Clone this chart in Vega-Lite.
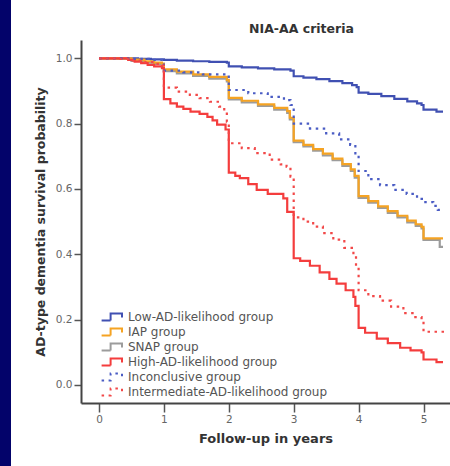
{
 "$schema": "https://vega.github.io/schema/vega-lite/v6.json",
 "width": 369,
 "height": 363,
 "autosize": {"type": "none"},
 "padding": {"left": 81, "top": 40, "right": 0, "bottom": 63},
 "background": "#03036a",
 "title": {"text": "NIA-AA criteria", "font": "DejaVu Sans", "fontSize": 12.5, "fontWeight": "bold", "color": "#333333", "frame": "group", "anchor": "middle", "dx": 36, "offset": 5},
 "data": {"values": [
  {"g":"Low-AD-likelihood group","t":0,"s":1},
  {"g":"Low-AD-likelihood group","t":0.4,"s":1},
  {"g":"Low-AD-likelihood group","t":0.6,"s":0.998},
  {"g":"Low-AD-likelihood group","t":0.8,"s":0.997},
  {"g":"Low-AD-likelihood group","t":1.0,"s":0.995},
  {"g":"Low-AD-likelihood group","t":1.2,"s":0.993},
  {"g":"Low-AD-likelihood group","t":1.45,"s":0.991},
  {"g":"Low-AD-likelihood group","t":1.7,"s":0.989},
  {"g":"Low-AD-likelihood group","t":1.97,"s":0.987},
  {"g":"Low-AD-likelihood group","t":2.0,"s":0.975},
  {"g":"Low-AD-likelihood group","t":2.2,"s":0.972},
  {"g":"Low-AD-likelihood group","t":2.45,"s":0.969},
  {"g":"Low-AD-likelihood group","t":2.7,"s":0.966},
  {"g":"Low-AD-likelihood group","t":2.95,"s":0.962},
  {"g":"Low-AD-likelihood group","t":3.0,"s":0.945},
  {"g":"Low-AD-likelihood group","t":3.15,"s":0.941},
  {"g":"Low-AD-likelihood group","t":3.35,"s":0.936},
  {"g":"Low-AD-likelihood group","t":3.55,"s":0.93},
  {"g":"Low-AD-likelihood group","t":3.75,"s":0.924},
  {"g":"Low-AD-likelihood group","t":3.9,"s":0.918},
  {"g":"Low-AD-likelihood group","t":3.97,"s":0.912},
  {"g":"Low-AD-likelihood group","t":4.0,"s":0.895},
  {"g":"Low-AD-likelihood group","t":4.15,"s":0.891},
  {"g":"Low-AD-likelihood group","t":4.35,"s":0.884},
  {"g":"Low-AD-likelihood group","t":4.55,"s":0.876},
  {"g":"Low-AD-likelihood group","t":4.75,"s":0.868},
  {"g":"Low-AD-likelihood group","t":4.9,"s":0.862},
  {"g":"Low-AD-likelihood group","t":4.97,"s":0.857},
  {"g":"Low-AD-likelihood group","t":5.0,"s":0.843},
  {"g":"Low-AD-likelihood group","t":5.2,"s":0.837},
  {"g":"Low-AD-likelihood group","t":5.3,"s":0.837},

  {"g":"SNAP group","t":0,"s":1},
  {"g":"SNAP group","t":0.3,"s":0.998},
  {"g":"SNAP group","t":0.5,"s":0.992},
  {"g":"SNAP group","t":0.7,"s":0.987},
  {"g":"SNAP group","t":0.85,"s":0.983},
  {"g":"SNAP group","t":0.97,"s":0.98},
  {"g":"SNAP group","t":1.0,"s":0.961},
  {"g":"SNAP group","t":1.2,"s":0.954},
  {"g":"SNAP group","t":1.45,"s":0.946},
  {"g":"SNAP group","t":1.7,"s":0.938},
  {"g":"SNAP group","t":1.97,"s":0.929},
  {"g":"SNAP group","t":2.0,"s":0.874},
  {"g":"SNAP group","t":2.2,"s":0.865},
  {"g":"SNAP group","t":2.45,"s":0.854},
  {"g":"SNAP group","t":2.7,"s":0.843},
  {"g":"SNAP group","t":2.9,"s":0.833},
  {"g":"SNAP group","t":2.94,"s":0.813},
  {"g":"SNAP group","t":3.0,"s":0.743},
  {"g":"SNAP group","t":3.15,"s":0.73},
  {"g":"SNAP group","t":3.3,"s":0.717},
  {"g":"SNAP group","t":3.45,"s":0.703},
  {"g":"SNAP group","t":3.6,"s":0.688},
  {"g":"SNAP group","t":3.75,"s":0.671},
  {"g":"SNAP group","t":3.88,"s":0.655},
  {"g":"SNAP group","t":3.94,"s":0.635},
  {"g":"SNAP group","t":4.0,"s":0.573},
  {"g":"SNAP group","t":4.15,"s":0.558},
  {"g":"SNAP group","t":4.3,"s":0.542},
  {"g":"SNAP group","t":4.45,"s":0.527},
  {"g":"SNAP group","t":4.6,"s":0.513},
  {"g":"SNAP group","t":4.75,"s":0.498},
  {"g":"SNAP group","t":4.88,"s":0.487},
  {"g":"SNAP group","t":4.97,"s":0.479},
  {"g":"SNAP group","t":5.0,"s":0.444},
  {"g":"SNAP group","t":5.25,"s":0.423},
  {"g":"SNAP group","t":5.3,"s":0.423},

  {"g":"IAP group","t":0,"s":1},
  {"g":"IAP group","t":0.3,"s":1},
  {"g":"IAP group","t":0.5,"s":0.996},
  {"g":"IAP group","t":0.7,"s":0.991},
  {"g":"IAP group","t":0.85,"s":0.987},
  {"g":"IAP group","t":0.97,"s":0.984},
  {"g":"IAP group","t":1.0,"s":0.966},
  {"g":"IAP group","t":1.2,"s":0.959},
  {"g":"IAP group","t":1.45,"s":0.951},
  {"g":"IAP group","t":1.7,"s":0.943},
  {"g":"IAP group","t":1.97,"s":0.934},
  {"g":"IAP group","t":2.0,"s":0.879},
  {"g":"IAP group","t":2.2,"s":0.87},
  {"g":"IAP group","t":2.45,"s":0.859},
  {"g":"IAP group","t":2.7,"s":0.848},
  {"g":"IAP group","t":2.9,"s":0.838},
  {"g":"IAP group","t":2.94,"s":0.818},
  {"g":"IAP group","t":3.0,"s":0.748},
  {"g":"IAP group","t":3.15,"s":0.735},
  {"g":"IAP group","t":3.3,"s":0.722},
  {"g":"IAP group","t":3.45,"s":0.708},
  {"g":"IAP group","t":3.6,"s":0.693},
  {"g":"IAP group","t":3.75,"s":0.676},
  {"g":"IAP group","t":3.88,"s":0.66},
  {"g":"IAP group","t":3.94,"s":0.64},
  {"g":"IAP group","t":4.0,"s":0.578},
  {"g":"IAP group","t":4.15,"s":0.563},
  {"g":"IAP group","t":4.3,"s":0.547},
  {"g":"IAP group","t":4.45,"s":0.532},
  {"g":"IAP group","t":4.6,"s":0.518},
  {"g":"IAP group","t":4.75,"s":0.503},
  {"g":"IAP group","t":4.88,"s":0.492},
  {"g":"IAP group","t":4.97,"s":0.484},
  {"g":"IAP group","t":5.0,"s":0.449},
  {"g":"IAP group","t":5.3,"s":0.449},

  {"g":"High-AD-likelihood group","t":0,"s":1},
  {"g":"High-AD-likelihood group","t":0.35,"s":1},
  {"g":"High-AD-likelihood group","t":0.45,"s":0.995},
  {"g":"High-AD-likelihood group","t":0.55,"s":0.99},
  {"g":"High-AD-likelihood group","t":0.65,"s":0.985},
  {"g":"High-AD-likelihood group","t":0.75,"s":0.98},
  {"g":"High-AD-likelihood group","t":0.85,"s":0.975},
  {"g":"High-AD-likelihood group","t":0.97,"s":0.97},
  {"g":"High-AD-likelihood group","t":1.0,"s":0.875},
  {"g":"High-AD-likelihood group","t":1.1,"s":0.862},
  {"g":"High-AD-likelihood group","t":1.2,"s":0.852},
  {"g":"High-AD-likelihood group","t":1.3,"s":0.845},
  {"g":"High-AD-likelihood group","t":1.41,"s":0.837},
  {"g":"High-AD-likelihood group","t":1.55,"s":0.83},
  {"g":"High-AD-likelihood group","t":1.67,"s":0.821},
  {"g":"High-AD-likelihood group","t":1.75,"s":0.81},
  {"g":"High-AD-likelihood group","t":1.82,"s":0.797},
  {"g":"High-AD-likelihood group","t":1.95,"s":0.782},
  {"g":"High-AD-likelihood group","t":2.0,"s":0.65},
  {"g":"High-AD-likelihood group","t":2.1,"s":0.64},
  {"g":"High-AD-likelihood group","t":2.17,"s":0.633},
  {"g":"High-AD-likelihood group","t":2.3,"s":0.615},
  {"g":"High-AD-likelihood group","t":2.43,"s":0.597},
  {"g":"High-AD-likelihood group","t":2.6,"s":0.585},
  {"g":"High-AD-likelihood group","t":2.84,"s":0.571},
  {"g":"High-AD-likelihood group","t":2.9,"s":0.53},
  {"g":"High-AD-likelihood group","t":3.0,"s":0.388},
  {"g":"High-AD-likelihood group","t":3.1,"s":0.38},
  {"g":"High-AD-likelihood group","t":3.25,"s":0.365},
  {"g":"High-AD-likelihood group","t":3.4,"s":0.345},
  {"g":"High-AD-likelihood group","t":3.55,"s":0.325},
  {"g":"High-AD-likelihood group","t":3.66,"s":0.31},
  {"g":"High-AD-likelihood group","t":3.8,"s":0.29},
  {"g":"High-AD-likelihood group","t":3.92,"s":0.27},
  {"g":"High-AD-likelihood group","t":3.95,"s":0.242},
  {"g":"High-AD-likelihood group","t":4.0,"s":0.175},
  {"g":"High-AD-likelihood group","t":4.1,"s":0.16},
  {"g":"High-AD-likelihood group","t":4.28,"s":0.142},
  {"g":"High-AD-likelihood group","t":4.45,"s":0.128},
  {"g":"High-AD-likelihood group","t":4.64,"s":0.114},
  {"g":"High-AD-likelihood group","t":4.8,"s":0.106},
  {"g":"High-AD-likelihood group","t":4.97,"s":0.1},
  {"g":"High-AD-likelihood group","t":5.0,"s":0.078},
  {"g":"High-AD-likelihood group","t":5.2,"s":0.07},
  {"g":"High-AD-likelihood group","t":5.3,"s":0.07},

  {"g":"Inconclusive group","t":0,"s":1},
  {"g":"Inconclusive group","t":0.5,"s":0.998},
  {"g":"Inconclusive group","t":0.8,"s":0.995},
  {"g":"Inconclusive group","t":0.97,"s":0.992},
  {"g":"Inconclusive group","t":1.0,"s":0.962},
  {"g":"Inconclusive group","t":1.3,"s":0.957},
  {"g":"Inconclusive group","t":1.6,"s":0.951},
  {"g":"Inconclusive group","t":1.97,"s":0.944},
  {"g":"Inconclusive group","t":2.0,"s":0.903},
  {"g":"Inconclusive group","t":2.3,"s":0.893},
  {"g":"Inconclusive group","t":2.6,"s":0.882},
  {"g":"Inconclusive group","t":2.85,"s":0.872},
  {"g":"Inconclusive group","t":2.95,"s":0.857},
  {"g":"Inconclusive group","t":3.0,"s":0.8},
  {"g":"Inconclusive group","t":3.25,"s":0.785},
  {"g":"Inconclusive group","t":3.5,"s":0.77},
  {"g":"Inconclusive group","t":3.7,"s":0.752},
  {"g":"Inconclusive group","t":3.87,"s":0.735},
  {"g":"Inconclusive group","t":3.95,"s":0.705},
  {"g":"Inconclusive group","t":4.0,"s":0.655},
  {"g":"Inconclusive group","t":4.15,"s":0.63},
  {"g":"Inconclusive group","t":4.33,"s":0.612},
  {"g":"Inconclusive group","t":4.55,"s":0.597},
  {"g":"Inconclusive group","t":4.74,"s":0.585},
  {"g":"Inconclusive group","t":4.9,"s":0.57},
  {"g":"Inconclusive group","t":5.0,"s":0.56},
  {"g":"Inconclusive group","t":5.15,"s":0.548},
  {"g":"Inconclusive group","t":5.22,"s":0.536},
  {"g":"Inconclusive group","t":5.32,"s":0.536},

  {"g":"Intermediate-AD-likelihood group","t":0,"s":1},
  {"g":"Intermediate-AD-likelihood group","t":0.3,"s":0.998},
  {"g":"Intermediate-AD-likelihood group","t":0.5,"s":0.993},
  {"g":"Intermediate-AD-likelihood group","t":0.7,"s":0.988},
  {"g":"Intermediate-AD-likelihood group","t":0.85,"s":0.983},
  {"g":"Intermediate-AD-likelihood group","t":0.97,"s":0.978},
  {"g":"Intermediate-AD-likelihood group","t":1.0,"s":0.91},
  {"g":"Intermediate-AD-likelihood group","t":1.2,"s":0.898},
  {"g":"Intermediate-AD-likelihood group","t":1.4,"s":0.888},
  {"g":"Intermediate-AD-likelihood group","t":1.55,"s":0.878},
  {"g":"Intermediate-AD-likelihood group","t":1.71,"s":0.867},
  {"g":"Intermediate-AD-likelihood group","t":1.85,"s":0.852},
  {"g":"Intermediate-AD-likelihood group","t":1.93,"s":0.84},
  {"g":"Intermediate-AD-likelihood group","t":1.97,"s":0.806},
  {"g":"Intermediate-AD-likelihood group","t":2.0,"s":0.74},
  {"g":"Intermediate-AD-likelihood group","t":2.2,"s":0.725},
  {"g":"Intermediate-AD-likelihood group","t":2.4,"s":0.71},
  {"g":"Intermediate-AD-likelihood group","t":2.63,"s":0.69},
  {"g":"Intermediate-AD-likelihood group","t":2.8,"s":0.675},
  {"g":"Intermediate-AD-likelihood group","t":2.89,"s":0.668},
  {"g":"Intermediate-AD-likelihood group","t":2.95,"s":0.638},
  {"g":"Intermediate-AD-likelihood group","t":3.0,"s":0.513},
  {"g":"Intermediate-AD-likelihood group","t":3.15,"s":0.5},
  {"g":"Intermediate-AD-likelihood group","t":3.3,"s":0.485},
  {"g":"Intermediate-AD-likelihood group","t":3.45,"s":0.465},
  {"g":"Intermediate-AD-likelihood group","t":3.61,"s":0.445},
  {"g":"Intermediate-AD-likelihood group","t":3.78,"s":0.42},
  {"g":"Intermediate-AD-likelihood group","t":3.92,"s":0.398},
  {"g":"Intermediate-AD-likelihood group","t":3.96,"s":0.362},
  {"g":"Intermediate-AD-likelihood group","t":4.0,"s":0.29},
  {"g":"Intermediate-AD-likelihood group","t":4.15,"s":0.272},
  {"g":"Intermediate-AD-likelihood group","t":4.33,"s":0.258},
  {"g":"Intermediate-AD-likelihood group","t":4.5,"s":0.24},
  {"g":"Intermediate-AD-likelihood group","t":4.69,"s":0.22},
  {"g":"Intermediate-AD-likelihood group","t":4.85,"s":0.208},
  {"g":"Intermediate-AD-likelihood group","t":4.97,"s":0.195},
  {"g":"Intermediate-AD-likelihood group","t":5.0,"s":0.163},
  {"g":"Intermediate-AD-likelihood group","t":5.33,"s":0.163}
 ]},
 "mark": {"type": "line", "interpolate": "step-after", "strokeWidth": 2.2, "clip": true},
 "encoding": {
  "x": {"field": "t", "type": "quantitative",
        "scale": {"domain": [-0.277, 5.408], "nice": false, "zero": false},
        "axis": {"values": [0, 1, 2, 3, 4, 5], "format": "d", "title": "Follow-up in years", "titleFontSize": 13, "tickSize": 9, "labelPadding": 2, "titlePadding": 8}},
  "y": {"field": "s", "type": "quantitative",
        "scale": {"domain": [-0.0551, 1.056], "nice": false, "zero": false},
        "axis": {"values": [0, 0.2, 0.4, 0.6, 0.8, 1], "format": ".1f", "title": "AD-type dementia survival probability", "titleFontSize": 12.5, "tickSize": 7, "labelPadding": 2, "titlePadding": 8}},
  "color": {"field": "g", "type": "nominal",
        "scale": {"domain": ["Low-AD-likelihood group", "IAP group", "SNAP group", "High-AD-likelihood group", "Inconclusive group", "Intermediate-AD-likelihood group"],
                  "range": ["#4050b2", "#f5a323", "#9c9c9c", "#f43d3d", "#4a5cc4", "#f24848"]},
        "legend": {"title": null}},
  "strokeDash": {"field": "g", "type": "nominal",
        "scale": {"domain": ["Low-AD-likelihood group", "IAP group", "SNAP group", "High-AD-likelihood group", "Inconclusive group", "Intermediate-AD-likelihood group"],
                  "range": [[1, 0], [1, 0], [1, 0], [1, 0], [2.5, 4.5], [2.5, 4.5]]},
        "legend": {"title": null}}
 },
 "config": {
  "view": {"fill": "white", "stroke": "white", "strokeWidth": 140},
  "axis": {"grid": false, "domainColor": "#444444", "domainWidth": 2, "tickColor": "#555555", "tickWidth": 1.5,
           "labelColor": "#666666", "labelFont": "DejaVu Sans", "labelFontSize": 10.5,
           "titleFont": "DejaVu Sans", "titleFontWeight": "bold", "titleColor": "#333333"},
  "legend": {"orient": "none", "legendX": 25, "legendY": 270, "padding": 0,
             "labelFont": "DejaVu Sans", "labelFontSize": 12, "labelColor": "#555555", "labelLimit": 400,
             "symbolType": "M-1.9,0.6H-0.4V-0.6H1.5V0.1", "symbolSize": 144, "symbolStrokeWidth": 2,
             "symbolFillColor": "transparent", "labelOffset": 8, "rowPadding": -2.7}
 }
}
